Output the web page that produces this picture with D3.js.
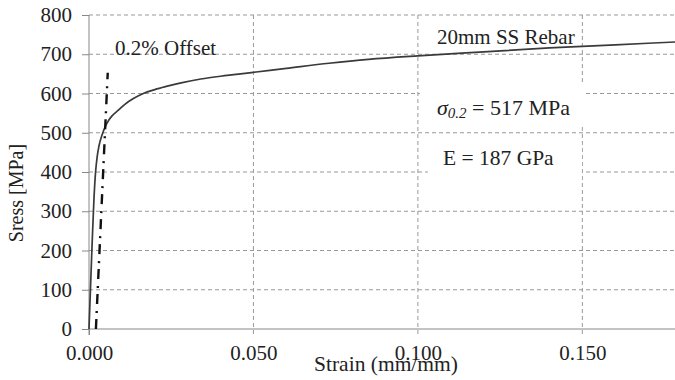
<!DOCTYPE html>
<html>
<head>
<meta charset="utf-8">
<script src="https://cdn.jsdelivr.net/npm/d3@7"></script>
<style>
  body { margin: 0; background: #fff; }
  text { font-family: "Liberation Serif", "DejaVu Serif", serif; fill: #222; }
</style>
</head>
<body>
<svg id="drawing_region"></svg>
<script>
// stress-strain curve
const strain = [0, 0.0005, 0.001, 0.0015, 0.002, 0.0025, 0.003, 0.004, 0.005, 0.006, 0.007, 0.009, 0.011, 0.0135, 0.0165, 0.020, 0.0235, 0.028, 0.034, 0.042, 0.050, 0.060, 0.073, 0.085, 0.100, 0.120, 0.140, 0.160, 0.180];
const stress = [0, 115, 228, 330, 400, 440, 465, 495, 517, 532, 543, 558, 573, 587, 600, 610, 618, 627, 637, 646, 654, 664, 677, 687, 696, 706, 716, 724, 732];

// 0.2% offset line
const offsetStrain = [0.0021, 0.0057];
const offsetStress = [0, 653];

const xTicks = [0, 0.05, 0.10, 0.15];
const yTicks = [0, 100, 200, 300, 400, 500, 600, 700, 800];

const labels = ['0.2% Offset', '20mm SS Rebar', 'E = 187 GPa'];

const FONT = '"Liberation Serif", "DejaVu Serif", serif';

class StressChart {

    constructor( config ) {
        this.config = {
            parent: config.parent,
            width: config.width || 675,
            height: config.height || 380,
            margin: config.margin || {top: 15, right: -6, bottom: 51, left: 89}
        }
        this.init();
    }

    init() {
        let self = this;
        const m = self.config.margin;

        self.svg = d3.select( self.config.parent )
            .attr('width', self.config.width)
            .attr('height', self.config.height);

        self.inner_width = self.config.width - m.left - m.right;
        self.inner_height = self.config.height - m.top - m.bottom;

        self.chart = self.svg.append('g')
            .attr('transform', `translate(${m.left}, ${m.top})`);

        self.xscale = d3.scaleLinear()
            .domain([0, 0.18])
            .range([0, self.inner_width]);

        self.yscale = d3.scaleLinear()
            .domain([0, 800])
            .range([self.inner_height, 0]);
    }

    render() {
        let self = this;
        const w = self.inner_width, h = self.inner_height;

        // grid
        self.chart.selectAll('.hgrid')
            .data(yTicks.filter(d => d > 0))
            .join('line')
            .attr('x1', 0).attr('x2', w)
            .attr('y1', d => self.yscale(d)).attr('y2', d => self.yscale(d))
            .attr('stroke', '#999').attr('stroke-dasharray', '4,3');

        self.chart.selectAll('.vgrid')
            .data(xTicks.filter(d => d > 0))
            .join('line')
            .attr('x1', d => self.xscale(d)).attr('x2', d => self.xscale(d))
            .attr('y1', 0).attr('y2', h + 6)
            .attr('stroke', '#999').attr('stroke-dasharray', '4,3');

        // axes
        const xaxis = d3.axisBottom(self.xscale)
            .tickValues(xTicks).tickSize(6).tickPadding(10)
            .tickFormat(d3.format('.3f'));
        const yaxis = d3.axisLeft(self.yscale)
            .tickValues(yTicks).tickSize(7).tickPadding(10);

        const gx = self.chart.append('g')
            .attr('transform', `translate(0, ${h})`)
            .call(xaxis);
        const gy = self.chart.append('g').call(yaxis);

        [gx, gy].forEach(g => {
            g.attr('font-family', null);
            g.select('.domain').remove();
            g.selectAll('line').attr('stroke', '#888');
            g.selectAll('text')
                .style('font-family', FONT)
                .style('font-size', '21px').attr('fill', '#222');
        });
        gx.selectAll('.tick').filter(d => d > 0).select('line').remove();

        self.chart.append('line')
            .attr('x1', 0).attr('x2', w).attr('y1', h).attr('y2', h)
            .attr('stroke', '#888');
        self.chart.append('line')
            .attr('x1', 0).attr('x2', 0).attr('y1', 0).attr('y2', h + 6)
            .attr('stroke', '#888');

        // white boxes behind the annotations
        self.chart.append('rect')
            .attr('x', self.xscale(0.1) + 2).attr('y', 70)
            .attr('width', 166).attr('height', 42).attr('fill', '#fff');
        self.chart.append('rect')
            .attr('x', self.xscale(0.1) + 10).attr('y', 128)
            .attr('width', 154).attr('height', 40).attr('fill', '#fff');

        // curves
        const line = d3.line()
            .x(d => self.xscale(d[0]))
            .y(d => self.yscale(d[1]))
            .curve(d3.curveMonotoneX);

        self.chart.append('path')
            .datum(strain.map((s, i) => [s, stress[i]]))
            .attr('d', line)
            .attr('fill', 'none')
            .attr('stroke', '#3a3a3a')
            .attr('stroke-width', 1.7);

        self.chart.append('path')
            .datum(offsetStrain.map((s, i) => [s, offsetStress[i]]))
            .attr('d', d3.line().x(d => self.xscale(d[0])).y(d => self.yscale(d[1])))
            .attr('stroke', '#111')
            .attr('stroke-width', 2.4)
            .attr('stroke-dasharray', '10,6,2,7');

        // labels
        self.chart.append('text')
            .attr('x', 26).attr('y', 40)
            .style('font-size', '21px')
            .text(labels[0]);

        self.chart.append('text')
            .attr('x', 348).attr('y', 29)
            .style('font-size', '21px')
            .text(labels[1]);

        const sig = self.chart.append('text')
            .attr('x', 348).attr('y', 100)
            .style('font-size', '22px');
        sig.append('tspan').style('font-style', 'italic').text('σ');
        sig.append('tspan').style('font-style', 'italic').style('font-size', '15px')
            .attr('dy', 3).text('0.2');
        sig.append('tspan').attr('dy', -3).text(' = 517 MPa');

        self.chart.append('text')
            .attr('x', 354).attr('y', 150)
            .style('font-size', '21.5px')
            .text(labels[2]);

        // axis titles
        self.svg.append('text')
            .attr('x', 386).attr('y', 371)
            .attr('text-anchor', 'middle')
            .style('font-size', '21.5px')
            .text('Strain (mm/mm)');

        self.svg.append('text')
            .attr('transform', 'translate(23, 193) rotate(-90)')
            .attr('text-anchor', 'middle')
            .style('font-size', '20px')
            .text('Sress [MPa]');
    }
}

const chart = new StressChart({ parent: '#drawing_region', width: 675, height: 380 });
chart.render();
</script>
</body>
</html>
